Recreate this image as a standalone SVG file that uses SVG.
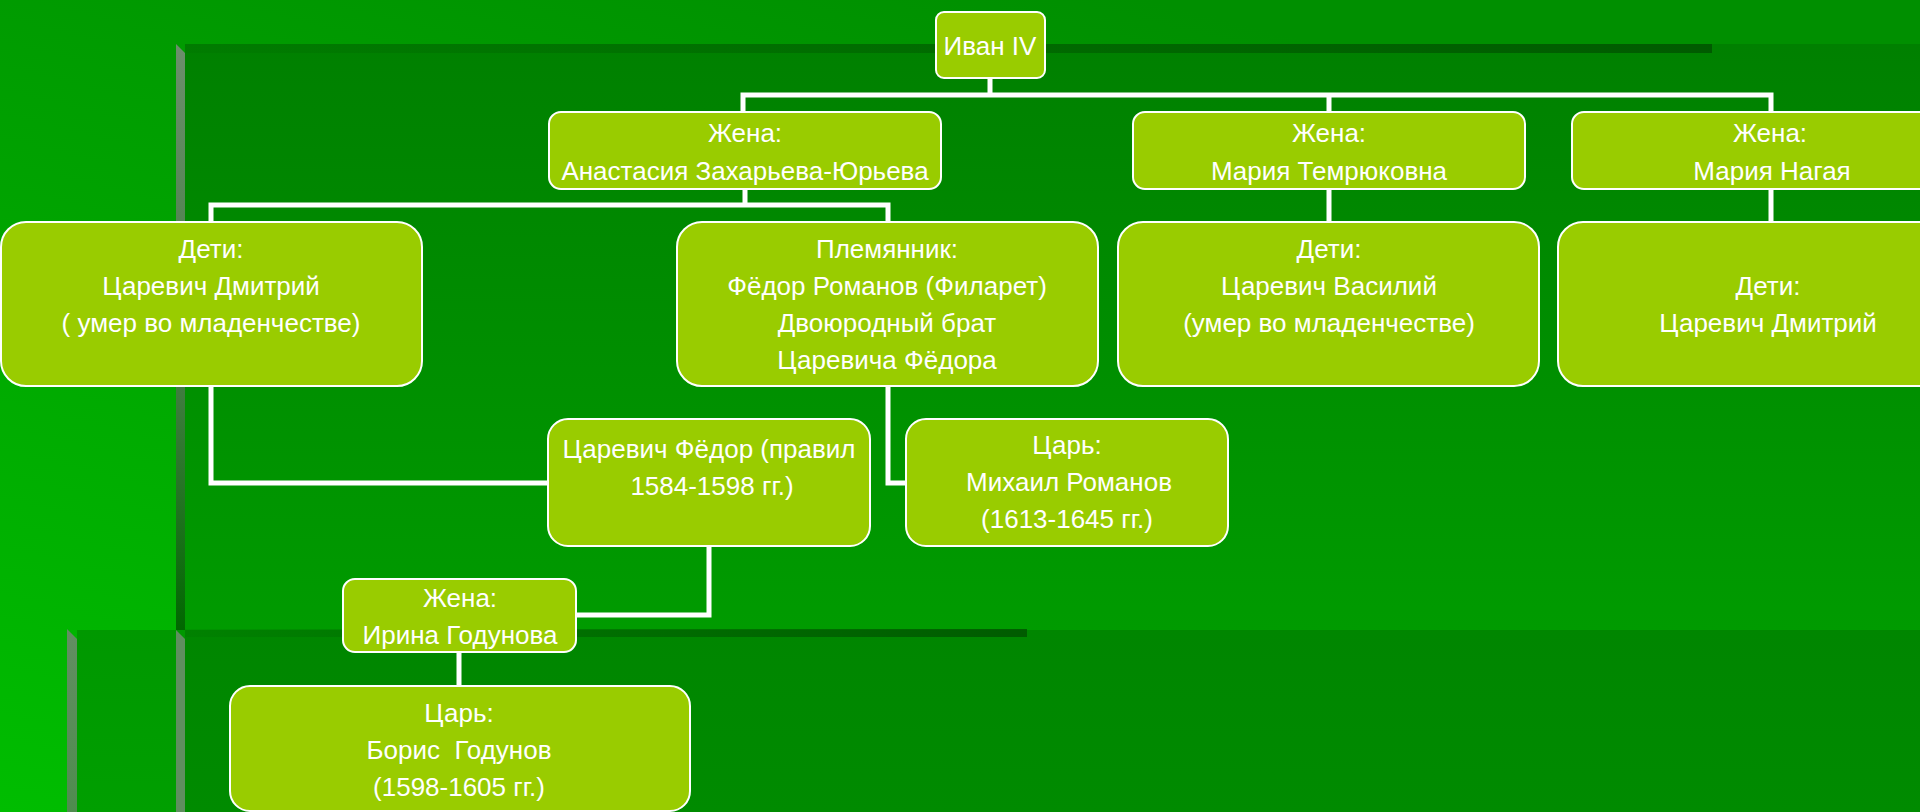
<svg xmlns="http://www.w3.org/2000/svg" width="1920" height="812" viewBox="0 0 1920 812">
<defs>
<linearGradient id="bg" x1="0.6" y1="0" x2="0" y2="1"><stop offset="0" stop-color="#008f00"/><stop offset="1" stop-color="#00bd00"/></linearGradient>
<linearGradient id="p1" gradientUnits="userSpaceOnUse" x1="0" y1="44" x2="0" y2="630"><stop offset="0" stop-color="#008000"/><stop offset="1" stop-color="#009b00"/></linearGradient>
<linearGradient id="p2" gradientUnits="userSpaceOnUse" x1="0" y1="630" x2="0" y2="812"><stop offset="0" stop-color="#008600"/><stop offset="1" stop-color="#008b00"/></linearGradient>
<linearGradient id="p2l" gradientUnits="userSpaceOnUse" x1="0" y1="630" x2="0" y2="812"><stop offset="0" stop-color="#009800"/><stop offset="1" stop-color="#009f00"/></linearGradient>
<linearGradient id="bev1" gradientUnits="userSpaceOnUse" x1="0" y1="44" x2="0" y2="630"><stop offset="0" stop-color="#6c8e6c"/><stop offset="0.6" stop-color="#3e7c3e"/><stop offset="1" stop-color="#006800"/></linearGradient>
<linearGradient id="bev2" gradientUnits="userSpaceOnUse" x1="0" y1="630" x2="0" y2="812"><stop offset="0" stop-color="#628e62"/><stop offset="1" stop-color="#4f8c4f"/></linearGradient>
<linearGradient id="bar" x1="0" y1="0" x2="1" y2="0"><stop offset="0" stop-color="#005400" stop-opacity="0.1"/><stop offset="1" stop-color="#005400" stop-opacity="0.85"/></linearGradient>
</defs>
<style>
.box{fill:#99cc00;stroke:#ffffff;stroke-width:2}
.lbl{font-family:"Liberation Sans",Arial,sans-serif;font-size:26px;fill:#ffffff;text-anchor:middle;white-space:pre}
.con{fill:none;stroke:#ffffff;stroke-width:5;stroke-linejoin:miter}
</style>
<g id="background">
<rect x="0" y="0" width="1920" height="812" fill="url(#bg)"/>
<rect x="185" y="44" width="1735" height="586" fill="url(#p1)"/>
<rect x="77" y="630" width="108" height="182" fill="url(#p2l)"/>
<rect x="185" y="630" width="1735" height="182" fill="url(#p2)"/>
<polygon points="176,44 185,53 185,630 176,630" fill="url(#bev1)"/>
<polygon points="176,630 185,639 185,812 176,812" fill="#5f8e5f"/>
<polygon points="67,629 77,639 77,812 67,812" fill="url(#bev2)"/>
<rect x="185" y="44" width="1527" height="9" fill="url(#bar)"/>
<rect x="185" y="629" width="842" height="8" fill="url(#bar)"/>
</g>
<g id="connectors">
<path class="con" d="M990,78 V95 M743,112 V95 H1771 V112 M1329,95 V112"/>
<path class="con" d="M745,189 V205 M211,222 V205 H888 V222"/>
<path class="con" d="M1329,189 V222 M1771,189 V222"/>
<path class="con" d="M211,386 V483 H548"/>
<path class="con" d="M888,386 V483 H906"/>
<path class="con" d="M709,546 V615 H576"/>
<path class="con" d="M459,652 V686"/>
</g>
<g id="ivan"><rect class="box" x="936" y="12" width="109" height="66" rx="8"/><text class="lbl" x="990" y="55">Иван IV</text></g>
<g id="anastasia"><rect class="box" x="549" y="112" width="392" height="77" rx="12"/><text class="lbl" x="745" y="142">Жена:</text><text class="lbl" x="745" y="180">Анастасия Захарьева-Юрьева</text></g>
<g id="temryukovna"><rect class="box" x="1133" y="112" width="392" height="77" rx="12"/><text class="lbl" x="1329" y="142">Жена:</text><text class="lbl" x="1329" y="180">Мария Темрюковна</text></g>
<g id="nagaya"><rect class="box" x="1572" y="112" width="398" height="77" rx="12"/><text class="lbl" x="1770" y="142">Жена:</text><text class="lbl" x="1772" y="180">Мария Нагая</text></g>
<g id="deti1"><rect class="box" x="1" y="222" width="421" height="164" rx="25"/><text class="lbl" x="211" y="258">Дети:</text><text class="lbl" x="211" y="295">Царевич Дмитрий</text><text class="lbl" x="211" y="332">( умер во младенчестве)</text></g>
<g id="plemyannik"><rect class="box" x="677" y="222" width="421" height="164" rx="25"/><text class="lbl" x="887" y="258">Племянник:</text><text class="lbl" x="887" y="295">Фёдор Романов (Филарет)</text><text class="lbl" x="887" y="332">Двоюродный брат</text><text class="lbl" x="887" y="369">Царевича Фёдора</text></g>
<g id="deti2"><rect class="box" x="1118" y="222" width="421" height="164" rx="25"/><text class="lbl" x="1329" y="258">Дети:</text><text class="lbl" x="1329" y="295">Царевич Василий</text><text class="lbl" x="1329" y="332">(умер во младенчестве)</text></g>
<g id="deti3"><rect class="box" x="1558" y="222" width="426" height="164" rx="25"/><text class="lbl" x="1768" y="295">Дети:</text><text class="lbl" x="1768" y="332">Царевич Дмитрий</text></g>
<g id="fedor"><rect class="box" x="548" y="419" width="322" height="127" rx="20"/><text class="lbl" x="709" y="458">Царевич Фёдор (правил</text><text class="lbl" x="712" y="495">1584-1598 гг.)</text></g>
<g id="mikhail"><rect class="box" x="906" y="419" width="322" height="127" rx="20"/><text class="lbl" x="1067" y="454">Царь:</text><text class="lbl" x="1069" y="491">Михаил Романов</text><text class="lbl" x="1067" y="528">(1613-1645 гг.)</text></g>
<g id="irina"><rect class="box" x="343" y="579" width="233" height="73" rx="12"/><text class="lbl" x="460" y="607">Жена:</text><text class="lbl" x="460" y="644">Ирина Годунова</text></g>
<g id="boris"><rect class="box" x="230" y="686" width="460" height="125" rx="20"/><text class="lbl" x="459" y="722">Царь:</text><text class="lbl" x="459" y="759">Борис  Годунов</text><text class="lbl" x="459" y="796">(1598-1605 гг.)</text></g>
</svg>
